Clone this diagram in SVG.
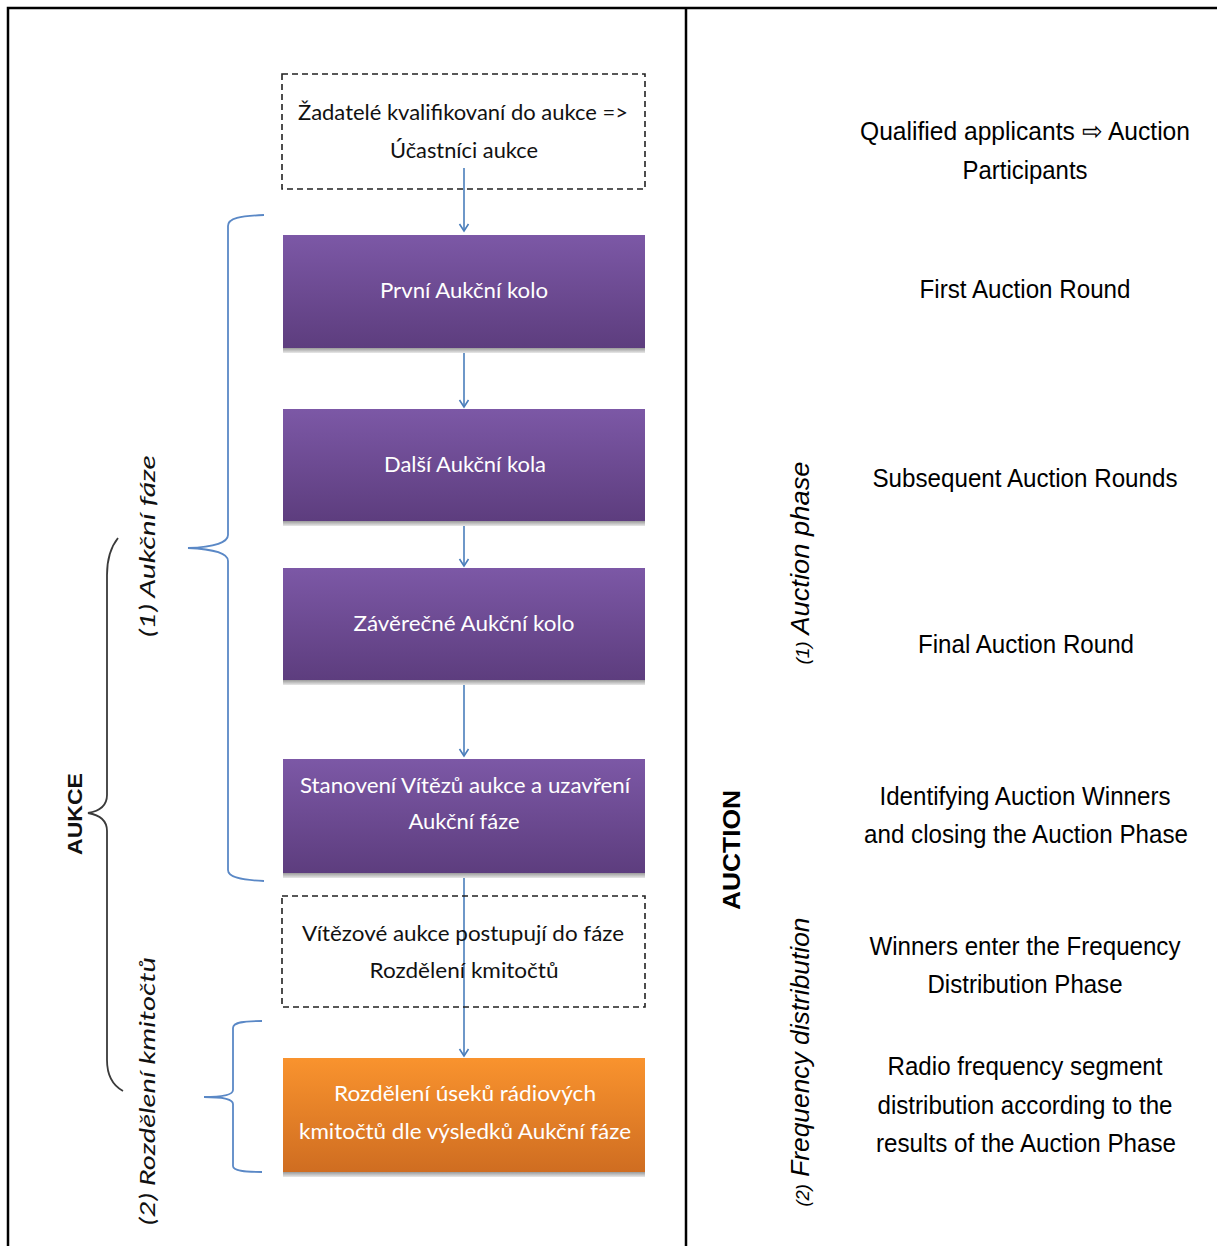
<svg xmlns="http://www.w3.org/2000/svg" width="1217" height="1246" viewBox="0 0 1217 1246">
<defs>
<linearGradient id="gPurple" x1="0" y1="0" x2="0" y2="1"><stop offset="0" stop-color="#7C58A6"/><stop offset="1" stop-color="#5D3D7E"/></linearGradient>
<linearGradient id="gOrange" x1="0" y1="0" x2="0" y2="1"><stop offset="0" stop-color="#F9932E"/><stop offset="1" stop-color="#CF6D21"/></linearGradient>
<linearGradient id="gShadow" x1="0" y1="0" x2="0" y2="1"><stop offset="0" stop-color="#9A9A9A"/><stop offset="1" stop-color="#E8E8E8"/></linearGradient>
<marker id="arr" markerUnits="userSpaceOnUse" markerWidth="12" markerHeight="12" refX="10" refY="6" orient="auto" viewBox="0 0 12 12">
<path d="M3,1.5 L10,6 L3,10.5" fill="none" stroke="#4A7EBB" stroke-width="1.6"/>
</marker>
<style>
.frame{fill:none;stroke:#000;stroke-width:2.5}
.dash{fill:#fff;stroke:#222;stroke-width:1.6;stroke-dasharray:6 4}
.conn{fill:none;stroke:#4A7EBB;stroke-width:1.6}
.brace{fill:none;stroke:#5A88C6;stroke-width:1.8}
.bbrace{fill:none;stroke:#3A3A3A;stroke-width:1.8}
.lt{font-family:Lato,"Liberation Sans",sans-serif;font-size:21px;text-anchor:middle}
.dk{fill:#111}
.wt{fill:#fff}
.it{font-style:italic}
.rt{font-family:"Liberation Sans",Arial,sans-serif;font-size:26px;fill:#000;text-anchor:middle}
.bold{font-weight:bold}
</style>
</defs>

<g id="frame">
<path class="frame" d="M8,1246 L8,8 L1217,8"/>
<path class="frame" d="M686,8 L686,1246"/>
</g>

<g id="connectors">
<path class="conn" d="M464,168 L464,231" marker-end="url(#arr)"/>
<path class="conn" d="M464,348 L464,407" marker-end="url(#arr)"/>
<path class="conn" d="M464,521 L464,566" marker-end="url(#arr)"/>
<path class="conn" d="M464,680 L464,756" marker-end="url(#arr)"/>
<path class="conn" d="M464,873 L464,1056" marker-end="url(#arr)"/>
</g>

<g id="braces">
<path class="brace" d="M264,215 C240,216 228,218 228,226 L228,535 C228,542 215,547 188,548 C215,549 228,554 228,561 L228,870 C228,877 240,880 264,881"/>
<path class="brace" d="M262,1021 C245,1021 233,1022 233,1028 L233,1090 C233,1094 225,1097 204,1097 C225,1097 233,1100 233,1104 L233,1166 C233,1171 245,1172 262,1172"/>
<path class="bbrace" d="M118,538 C110,548 107,560 107,575 L107,795 C107,806 100,811 88,813 C100,815 107,820 107,831 L107,1060 C107,1075 112,1085 123,1091"/>
</g>

<g id="node-qualified">
<rect class="dash" x="282" y="74" width="363" height="115"/>
<text class="lt dk" x="463" y="120" textLength="330" lengthAdjust="spacingAndGlyphs">Žadatelé kvalifikovaní do aukce =&gt;</text>
<text class="lt dk" x="464" y="158" textLength="148" lengthAdjust="spacingAndGlyphs">Účastníci aukce</text>
</g>
<path class="conn" d="M464,168 L464,189"/>

<g id="node-first">
<rect x="283" y="348" width="362" height="5" fill="url(#gShadow)"/>
<rect x="283" y="235" width="362" height="113" fill="url(#gPurple)"/>
<text class="lt wt" x="464" y="298" textLength="168" lengthAdjust="spacingAndGlyphs">První Aukční kolo</text>
</g>

<g id="node-next">
<rect x="283" y="521" width="362" height="5" fill="url(#gShadow)"/>
<rect x="283" y="409" width="362" height="112" fill="url(#gPurple)"/>
<text class="lt wt" x="465" y="472" textLength="162" lengthAdjust="spacingAndGlyphs">Další Aukční kola</text>
</g>

<g id="node-final">
<rect x="283" y="680" width="362" height="5" fill="url(#gShadow)"/>
<rect x="283" y="568" width="362" height="112" fill="url(#gPurple)"/>
<text class="lt wt" x="464" y="631" textLength="221" lengthAdjust="spacingAndGlyphs">Závěrečné Aukční kolo</text>
</g>

<g id="node-winners">
<rect x="283" y="873" width="362" height="5" fill="url(#gShadow)"/>
<rect x="283" y="759" width="362" height="114" fill="url(#gPurple)"/>
<text class="lt wt" x="465" y="793" textLength="330" lengthAdjust="spacingAndGlyphs">Stanovení Vítězů aukce a uzavření</text>
<text class="lt wt" x="464" y="829" textLength="111" lengthAdjust="spacingAndGlyphs">Aukční fáze</text>
</g>

<g id="node-advance">
<rect class="dash" x="282" y="896" width="363" height="111" style="fill:none"/>
<text class="lt dk" x="463" y="941" textLength="322" lengthAdjust="spacingAndGlyphs">Vítězové aukce postupují do fáze</text>
<text class="lt dk" x="464" y="978" textLength="189" lengthAdjust="spacingAndGlyphs">Rozdělení kmitočtů</text>
</g>

<g id="node-distribution">
<rect x="283" y="1172" width="362" height="5" fill="url(#gShadow)"/>
<rect x="283" y="1058" width="362" height="114" fill="url(#gOrange)"/>
<text class="lt wt" x="465" y="1101" textLength="262" lengthAdjust="spacingAndGlyphs">Rozdělení úseků rádiových</text>
<text class="lt wt" x="465" y="1139" textLength="332" lengthAdjust="spacingAndGlyphs">kmitočtů dle výsledků Aukční fáze</text>
</g>

<g id="labels-left">
<text class="lt dk bold" transform="translate(82,814) rotate(-90)" textLength="82" lengthAdjust="spacingAndGlyphs" style="font-family:'Liberation Sans',Arial,sans-serif;font-size:21px">AUKCE</text>
<text class="lt dk it" transform="translate(155,546) rotate(-90)" textLength="182" lengthAdjust="spacingAndGlyphs">(1) Aukční fáze</text>
<text class="lt dk it" transform="translate(155,1091) rotate(-90)" textLength="268" lengthAdjust="spacingAndGlyphs">(2) Rozdělení kmitočtů</text>
</g>

<g id="labels-right">
<text class="rt bold" transform="translate(740,850) rotate(-90)" textLength="120" lengthAdjust="spacingAndGlyphs" style="font-size:24px">AUCTION</text>
<text class="rt it" transform="translate(809,563) rotate(-90)" textLength="203" lengthAdjust="spacingAndGlyphs"><tspan style="font-size:18px">(1)</tspan>  Auction phase</text>
<text class="rt it" transform="translate(809,1062) rotate(-90)" textLength="289" lengthAdjust="spacingAndGlyphs"><tspan style="font-size:18px">(2)</tspan> Frequency distribution</text>
</g>

<g id="desc-qualified">
<text class="rt" x="1025" y="140" textLength="330" lengthAdjust="spacingAndGlyphs">Qualified applicants ⇨ Auction</text>
<text class="rt" x="1025" y="179" textLength="125" lengthAdjust="spacingAndGlyphs">Participants</text>
</g>
<g id="desc-first"><text class="rt" x="1025" y="298" textLength="211" lengthAdjust="spacingAndGlyphs">First Auction Round</text></g>
<g id="desc-next"><text class="rt" x="1025" y="487" textLength="305" lengthAdjust="spacingAndGlyphs">Subsequent Auction Rounds</text></g>
<g id="desc-final"><text class="rt" x="1026" y="653" textLength="216" lengthAdjust="spacingAndGlyphs">Final Auction Round</text></g>
<g id="desc-winners">
<text class="rt" x="1025" y="805" textLength="291" lengthAdjust="spacingAndGlyphs">Identifying Auction Winners</text>
<text class="rt" x="1026" y="843" textLength="324" lengthAdjust="spacingAndGlyphs">and closing the Auction Phase</text>
</g>
<g id="desc-advance">
<text class="rt" x="1025" y="955" textLength="311" lengthAdjust="spacingAndGlyphs">Winners enter the Frequency</text>
<text class="rt" x="1025" y="993" textLength="195" lengthAdjust="spacingAndGlyphs">Distribution Phase</text>
</g>
<g id="desc-distribution">
<text class="rt" x="1025" y="1075" textLength="275" lengthAdjust="spacingAndGlyphs">Radio frequency segment</text>
<text class="rt" x="1025" y="1114" textLength="295" lengthAdjust="spacingAndGlyphs">distribution according to the</text>
<text class="rt" x="1026" y="1152" textLength="300" lengthAdjust="spacingAndGlyphs">results of the Auction Phase</text>
</g>
</svg>
